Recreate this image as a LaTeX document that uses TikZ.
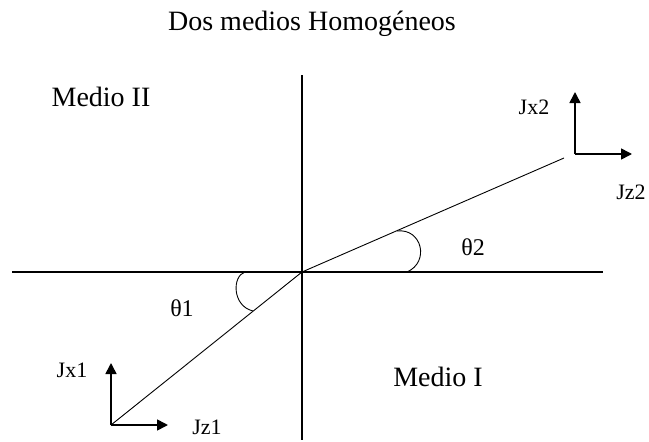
\documentclass[tikz,border=0pt]{standalone}
\usepackage{fontspec}
\setmainfont{Liberation Serif}
\usetikzlibrary{arrows.meta}

\tikzset{
  axis/.style={line width=1.6pt},
  ray/.style={line width=0.9pt},
  vec/.style={line width=1.6pt, -{Triangle[length=11pt,width=11pt]}},
  anglearc/.style={line width=0.9pt},
  big/.style={font=\fontsize{28}{30}\selectfont, inner sep=0pt},
  lab/.style={font=\fontsize{22}{24}\selectfont, inner sep=0pt},
  ang/.style={font=\fontsize{24}{26}\selectfont, inner sep=0pt},
}

\begin{document}
\begin{tikzpicture}[x=1pt, y=-1pt]
  \useasboundingbox (0,0) rectangle (649,442);
  % interface and normal
  \coordinate (O) at (302,272);
  \coordinate (top) at (302,75);   \coordinate (bot) at (302,440);
  \coordinate (left) at (12,272);  \coordinate (right) at (603,272);
  \draw[axis] (top) -- (bot);
  \draw[axis] (left) -- (right);
  % the ray through both media
  \coordinate (C1) at (111,425);
  \coordinate (R2) at (564,158);
  \draw[ray] (C1) -- (O) -- (R2);
  % components in each medium
  \coordinate (C2) at (575,154);
  \coordinate (X1) at (111,363); \coordinate (Z1) at (168,425);
  \coordinate (X2) at (575,92);  \coordinate (Z2) at (632,154);
  \foreach \c/\t in {C1/X1,C1/Z1,C2/X2,C2/Z2}
    \draw[vec] (\c) -- (\t);
  % angles
  \draw[anglearc] (245,272) .. controls (232,276) and (232,306) .. (253,311);
  \draw[anglearc] (397,231) .. controls (422,228) and (430,262) .. (407,272);
  % texts
  \node[big] (title) at (312,24) {Dos medios Homogéneos};
  \node[big] (med2) at (101,97) {Medio II};
  \node[big] (med1) at (438,377) {Medio I};
  \node[lab] (jx1) at (72,370) {Jx1};
  \node[lab] (jz1) at (207,427) {Jz1};
  \node[lab] (jx2) at (534,107) {Jx2};
  \node[lab] (jz2) at (631,192) {Jz2};
  \node[ang] (th1) at (182,308) {θ1};
  \node[ang] (th2) at (473,247) {θ2};
\end{tikzpicture}
\end{document}
